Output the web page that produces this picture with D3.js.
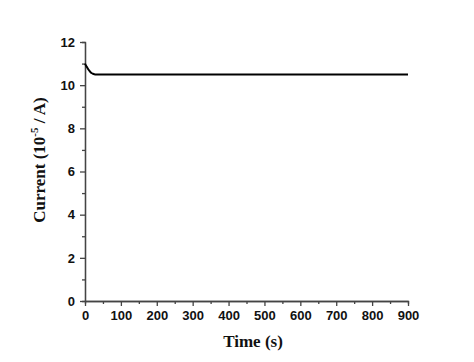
<!DOCTYPE html>
<html>
<head>
<meta charset="utf-8">
<script src="https://cdn.jsdelivr.net/npm/d3@7"></script>
<style>
  body { margin: 0; background: #fff; }
  .tick text { font-family: "Liberation Sans", Arial, sans-serif; font-weight: bold; font-size: 13px; fill: #111; }
  .axis-title { font-family: "Liberation Serif", "Times New Roman", serif; font-weight: bold; font-size: 17px; fill: #111; }
</style>
</head>
<body>
<svg width="474" height="362"></svg>
<script>
const times = [0, 3, 6, 9, 12, 15, 18, 22, 26, 30, 40, 60, 100, 200, 300, 400, 500, 600, 700, 800, 900];
const current = [11.0, 10.9, 10.82, 10.74, 10.67, 10.61, 10.56, 10.53, 10.51, 10.5, 10.5, 10.5, 10.5, 10.5, 10.5, 10.5, 10.5, 10.5, 10.5, 10.5, 10.5];
const xTicks = [0, 100, 200, 300, 400, 500, 600, 700, 800, 900];
const yTicks = [0, 2, 4, 6, 8, 10, 12];

const svg = d3.select('svg');
const x = d3.scaleLinear().domain([0, 900]).range([85, 408]);
const y = d3.scaleLinear().domain([0, 12]).range([301, 42]);
const axisColor = '#444';

// minor ticks
const xMinor = d3.axisBottom(x).tickValues(d3.range(50, 900, 100)).tickSize(3).tickFormat('');
const yMinor = d3.axisLeft(y).tickValues(d3.range(1, 12, 2)).tickSize(3).tickFormat('');
svg.append('g').attr('transform', 'translate(0,301)').call(xMinor);
svg.append('g').attr('transform', 'translate(85,0)').call(yMinor);

svg.append('g')
    .attr('transform', 'translate(0,301)')
  .call(d3.axisBottom(x).tickValues(xTicks).tickSize(5).tickSizeOuter(0).tickPadding(5));
svg.append('g')
    .attr('transform', 'translate(85,0)')
  .call(d3.axisLeft(y).tickValues(yTicks).tickSize(5).tickSizeOuter(0).tickPadding(5));

svg.selectAll('.domain, .tick line').attr('stroke', axisColor).attr('stroke-width', 1.3);

svg.append('path')
    .datum(times.map((t, i) => [t, current[i]]))
    .attr('fill', 'none')
    .attr('stroke', '#000')
    .attr('stroke-width', 2)
    .attr('d', d3.line().x(d => x(d[0])).y(d => y(d[1])).curve(d3.curveMonotoneX));

svg.append('text')
    .attr('class', 'axis-title')
    .attr('x', 253)
    .attr('y', 347)
    .attr('text-anchor', 'middle')
    .text('Time (s)');

const yt = svg.append('text')
    .attr('class', 'axis-title')
    .attr('transform', 'translate(45,160) rotate(-90)')
    .attr('text-anchor', 'middle');
yt.append('tspan').text('Current (10');
yt.append('tspan').attr('dy', -7).attr('font-size', 11).text('-5');
yt.append('tspan').attr('dy', 7).text(' / A)');
</script>
</body>
</html>
